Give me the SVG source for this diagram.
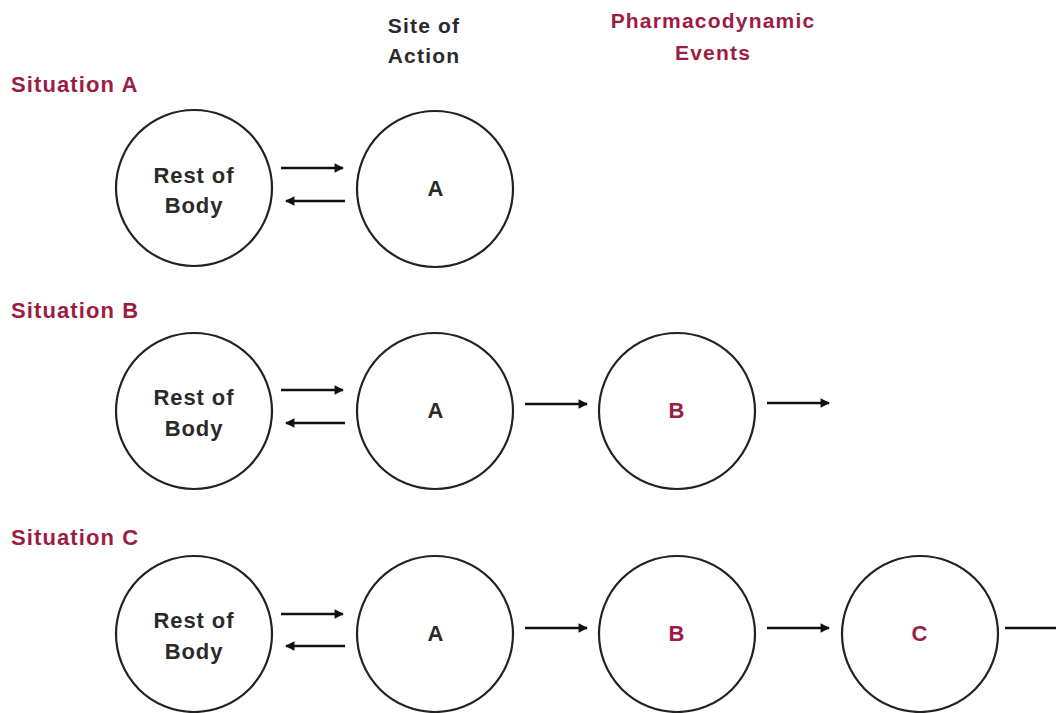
<svg xmlns="http://www.w3.org/2000/svg" width="1056" height="713" viewBox="0 0 1056 713">
  <style>
    .node { fill: #ffffff; stroke: #222222; stroke-width: 2.2; }
    .lbl { font-family: "Liberation Sans", Arial, sans-serif; font-weight: bold; font-size: 22px; letter-spacing: 0.9px; text-anchor: middle; fill: #2a2a2a; }
    .head { font-size: 21px; letter-spacing: 1.2px; }
    .red { fill: #9b1c45; }
    .sit { font-family: "Liberation Sans", Arial, sans-serif; font-weight: bold; font-size: 22px; letter-spacing: 1.1px; fill: #9b1c45; }
    .edge { stroke: #111111; stroke-width: 2.6; fill: none; marker-end: url(#head); }
  </style>
  <defs>
    <marker id="head" viewBox="0 0 10 10" refX="9" refY="5" markerWidth="3.8" markerHeight="3.6" orient="auto" markerUnits="strokeWidth">
      <path d="M0,0 L10,5 L0,10 Z" fill="#111111"/>
    </marker>
  </defs>

  <rect width="1056" height="713" fill="#ffffff"/>

  <!-- column headings -->
  <g id="heading-site">
    <text class="lbl head" x="424" y="33">Site of</text>
    <text class="lbl head" x="424" y="63">Action</text>
  </g>
  <g id="heading-pd">
    <text class="lbl head red" x="713" y="28">Pharmacodynamic</text>
    <text class="lbl head red" x="713" y="60">Events</text>
  </g>

  <!-- row titles -->
  <text class="sit" x="11" y="92">Situation A</text>
  <text class="sit" x="11" y="318">Situation B</text>
  <text class="sit" x="11" y="545">Situation C</text>

  <!-- Situation A -->
  <g id="a-body">
    <circle class="node" cx="194" cy="188" r="78"/>
    <text class="lbl" x="194" y="183">Rest of</text>
    <text class="lbl" x="194" y="213">Body</text>
  </g>
  <g id="a-site">
    <circle class="node" cx="435" cy="189" r="78"/>
    <text class="lbl" x="436" y="196">A</text>
  </g>

  <!-- Situation B -->
  <g id="b-body">
    <circle class="node" cx="194" cy="411" r="78"/>
    <text class="lbl" x="194" y="405">Rest of</text>
    <text class="lbl" x="194" y="436">Body</text>
  </g>
  <g id="b-site">
    <circle class="node" cx="435" cy="411" r="78"/>
    <text class="lbl" x="436" y="418">A</text>
  </g>
  <g id="b-event-b">
    <circle class="node" cx="677" cy="411" r="78"/>
    <text class="lbl red" x="677" y="418">B</text>
  </g>

  <!-- Situation C -->
  <g id="c-body">
    <circle class="node" cx="194" cy="634" r="78"/>
    <text class="lbl" x="194" y="628">Rest of</text>
    <text class="lbl" x="194" y="659">Body</text>
  </g>
  <g id="c-site">
    <circle class="node" cx="435" cy="634" r="78"/>
    <text class="lbl" x="436" y="641">A</text>
  </g>
  <g id="c-event-b">
    <circle class="node" cx="677" cy="634" r="78"/>
    <text class="lbl red" x="677" y="641">B</text>
  </g>
  <g id="c-event-c">
    <circle class="node" cx="920" cy="634" r="78"/>
    <text class="lbl red" x="920" y="641">C</text>
  </g>

  <!-- connectors -->
  <g id="connectors">
    <line class="edge" x1="281" y1="168" x2="343" y2="168"/>
    <line class="edge" x1="345" y1="201" x2="286" y2="201"/>

    <line class="edge" x1="281" y1="390" x2="343" y2="390"/>
    <line class="edge" x1="345" y1="423" x2="286" y2="423"/>
    <line class="edge" x1="525" y1="404" x2="587" y2="404"/>
    <line class="edge" x1="767" y1="403" x2="829" y2="403"/>

    <line class="edge" x1="281" y1="614" x2="343" y2="614"/>
    <line class="edge" x1="345" y1="646" x2="286" y2="646"/>
    <line class="edge" x1="525" y1="628" x2="587" y2="628"/>
    <line class="edge" x1="767" y1="628" x2="829" y2="628"/>
    <line x1="1005" y1="628" x2="1056" y2="628" stroke="#111111" stroke-width="2.6"/>
  </g>
</svg>
